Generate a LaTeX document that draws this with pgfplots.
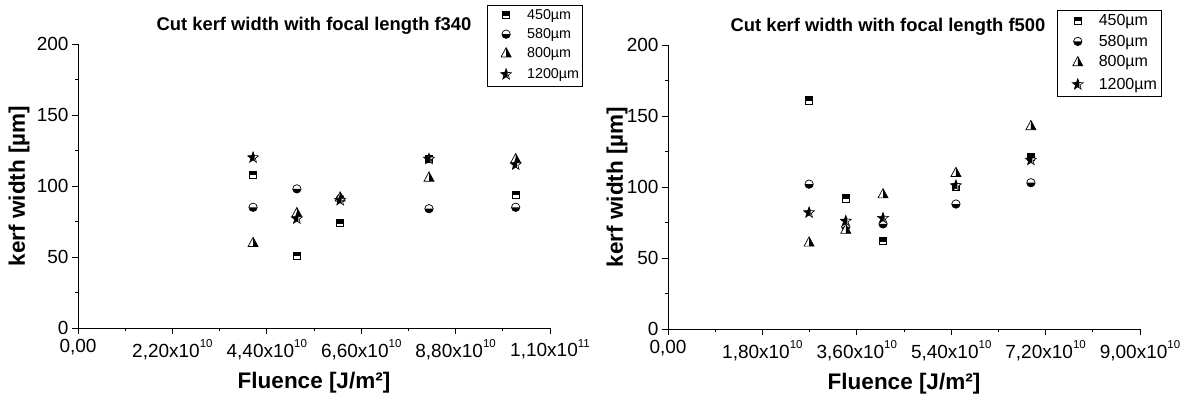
\documentclass[border=0pt]{standalone}
\usepackage{fontspec}
\setmainfont{Liberation Sans}
\usepackage{pgfplots}
\pgfplotsset{compat=1.18}

% half-filled marks as in the original plot
\newcommand\hstarpath{%
  \pgfpathmoveto{\pgfpointpolar{90}{1.15\pgfplotmarksize}}%
  \pgfpathlineto{\pgfpointpolar{126}{0.48\pgfplotmarksize}}%
  \pgfpathlineto{\pgfpointpolar{162}{1.15\pgfplotmarksize}}%
  \pgfpathlineto{\pgfpointpolar{198}{0.48\pgfplotmarksize}}%
  \pgfpathlineto{\pgfpointpolar{234}{1.15\pgfplotmarksize}}%
  \pgfpathlineto{\pgfpointpolar{270}{0.48\pgfplotmarksize}}%
  \pgfpathlineto{\pgfpointpolar{306}{1.15\pgfplotmarksize}}%
  \pgfpathlineto{\pgfpointpolar{342}{0.48\pgfplotmarksize}}%
  \pgfpathlineto{\pgfpointpolar{18}{1.15\pgfplotmarksize}}%
  \pgfpathlineto{\pgfpointpolar{54}{0.48\pgfplotmarksize}}%
  \pgfpathclose}
\newcommand\htripath{%
  \pgfpathmoveto{\pgfpoint{0pt}{1.1\pgfplotmarksize}}%
  \pgfpathlineto{\pgfpoint{-\pgfplotmarksize}{-0.75\pgfplotmarksize}}%
  \pgfpathlineto{\pgfpoint{\pgfplotmarksize}{-0.75\pgfplotmarksize}}%
  \pgfpathclose}
\pgfdeclareplotmark{hsquare}{%
  \pgfsetfillcolor{white}%
  \pgfpathrectangle{\pgfpoint{-\pgfplotmarksize}{-\pgfplotmarksize}}{\pgfpoint{2\pgfplotmarksize}{2\pgfplotmarksize}}%
  \pgfusepath{fill}%
  \pgfsetfillcolor{black}%
  \pgfpathrectangle{\pgfpoint{-\pgfplotmarksize}{-0.2\pgfplotmarksize}}{\pgfpoint{2\pgfplotmarksize}{1.2\pgfplotmarksize}}%
  \pgfusepath{fill}%
  \pgfpathrectangle{\pgfpoint{-\pgfplotmarksize}{-\pgfplotmarksize}}{\pgfpoint{2\pgfplotmarksize}{2\pgfplotmarksize}}%
  \pgfusepath{stroke}}
\pgfdeclareplotmark{hcircle}{%
  \pgfsetfillcolor{white}%
  \pgfpathcircle{\pgfpointorigin}{\pgfplotmarksize}%
  \pgfusepath{fill}%
  \pgfsetfillcolor{black}%
  \pgfpathmoveto{\pgfpoint{-\pgfplotmarksize}{0pt}}%
  \pgfpatharc{180}{360}{\pgfplotmarksize}%
  \pgfpathclose
  \pgfusepath{fill}%
  \pgfpathcircle{\pgfpointorigin}{\pgfplotmarksize}%
  \pgfusepath{stroke}}
\pgfdeclareplotmark{htri}{%
  \pgfsetfillcolor{white}\htripath\pgfusepath{fill}%
  \pgfsetfillcolor{black}%
  \pgfpathmoveto{\pgfpoint{0pt}{1.1\pgfplotmarksize}}%
  \pgfpathlineto{\pgfpoint{0pt}{-0.75\pgfplotmarksize}}%
  \pgfpathlineto{\pgfpoint{\pgfplotmarksize}{-0.75\pgfplotmarksize}}%
  \pgfpathclose\pgfusepath{fill}%
  \htripath\pgfusepath{stroke}}
\pgfdeclareplotmark{hstar}{%
  \pgfsetfillcolor{white}\hstarpath\pgfusepath{fill}%
  \begin{pgfscope}%
    \pgfpathrectangle{\pgfpoint{-2\pgfplotmarksize}{-2\pgfplotmarksize}}{\pgfpoint{2.3\pgfplotmarksize}{4\pgfplotmarksize}}%
    \pgfusepath{clip}%
    \pgfsetfillcolor{black}\hstarpath\pgfusepath{fill}%
  \end{pgfscope}%
  \hstarpath\pgfusepath{stroke}}

\newcommand\ee[1]{\raisebox{0.5em}{\fontsize{11.5}{11.5}\selectfont #1}}

\pgfplotsset{
  kerf/.style={
    scale only axis, width=472pt, height=284pt,
    axis lines=left, axis line style={-, line width=1pt},
    tick align=outside, major tick length=6pt, minor tick length=3pt,
    every tick/.style={black, line width=0.8pt},
    ymin=0, ymax=200, ytick={0,50,...,200}, minor y tick num=1,
    minor x tick num=1, xmin=0,
    clip=false,
    tick label style={font=\fontsize{19}{19}\selectfont},
    xticklabel style={yshift=-2pt},
    /pgf/number format/assume math mode=true,
    xlabel={Fluence [J/m²]}, ylabel={kerf width [µm]},
    label style={font=\bfseries\fontsize{22.5}{22.5}\selectfont},
    xlabel style={at={(axis description cs:0.5,-0.194)}, anchor=center},
    every axis title shift=0pt,
    title style={font=\bfseries\fontsize{18.4}{18.4}\selectfont, anchor=center},
    legend cell align=left,
    legend style={anchor=north west, draw=black, line width=0.7pt,
      inner xsep=1pt, inner ysep=2pt, row sep=3.5pt},
  },
  leg/.style={legend image code/.code={%
      \path[draw=none, fill=none] (0pt,-3pt) rectangle (37pt,4pt);
      \draw[##1] plot coordinates {(18pt,0pt)};}},
  s450/.style={only marks, mark=hsquare, mark size=3.6pt, mark options={draw=black, line width=0.7pt}, leg},
  s580/.style={only marks, mark=hcircle, mark size=4.2pt, mark options={draw=black, line width=0.7pt}, leg},
  s800/.style={only marks, mark=htri, mark size=5pt, mark options={draw=black, line width=0.7pt}, leg},
  s1200/.style={only marks, mark=hstar, mark size=5pt, mark options={draw=black, line width=0.6pt}, leg},
}

\begin{document}
\begin{tikzpicture}
\useasboundingbox (0,0) rectangle (1191pt,400pt);

\begin{axis}[kerf, at={(78pt,72pt)}, anchor=south west,
  xmax=11, xtick={0,2.2,4.4,6.6,8.8,11},
  xticklabels={{0,00},{2,20x10\ee{10}},{4,40x10\ee{10}},{6,60x10\ee{10}},{8,80x10\ee{10}},{1,10x10\ee{11}}},
  ylabel style={at={(axis description cs:-0.125,0.5)}, anchor=center},
  title={Cut kerf width with focal length f340},
  title style={at={(axis description cs:0.5,1.065)}},
  legend style={at={(axis description cs:0.866,1.137)}, font=\fontsize{14.3}{14.3}\selectfont}]
\addplot[s450] coordinates {(4.08,108)(5.10,51)(6.11,74)(8.18,119)(10.2,94)};
\addplot[s580] coordinates {(4.08,85)(5.10,98)(6.11,91)(8.18,84)(10.2,85)};
\addplot[s800] coordinates {(4.08,60)(5.10,81)(6.11,92)(8.18,106)(10.2,119)};
\addplot[s1200] coordinates {(4.08,120)(5.10,77)(6.11,90)(8.18,119)(10.2,115)};
\legend{450µm,580µm,800µm,1200µm}
\end{axis}

\begin{axis}[kerf, at={(668pt,71pt)}, anchor=south west,
  xmax=9, xtick={0,1.8,3.6,5.4,7.2,9},
  xticklabels={{0,00},{1,80x10\ee{10}},{3,60x10\ee{10}},{5,40x10\ee{10}},{7,20x10\ee{10}},{9,00x10\ee{10}}},
  ylabel style={at={(axis description cs:-0.108,0.5)}, anchor=center},
  title={Cut kerf width with focal length f500},
  title style={at={(axis description cs:0.466,1.065)}},
  legend style={at={(axis description cs:0.824,1.123)}, font=\fontsize{16}{16}\selectfont, row sep=4pt, inner xsep=2.5pt}]
\addplot[s450] coordinates {(2.69,161)(3.39,92)(4.10,62)(5.49,100)(6.92,121)};
\addplot[s580] coordinates {(2.69,102)(3.39,72)(4.10,74)(5.49,88)(6.92,103)};
\addplot[s800] coordinates {(2.69,61)(3.39,70)(4.10,95)(5.49,110)(6.92,143)};
\addplot[s1200] coordinates {(2.69,82)(3.39,76)(4.10,78)(5.49,101)(6.92,119)};
\legend{450µm,580µm,800µm,1200µm}
\end{axis}
\end{tikzpicture}
\end{document}
